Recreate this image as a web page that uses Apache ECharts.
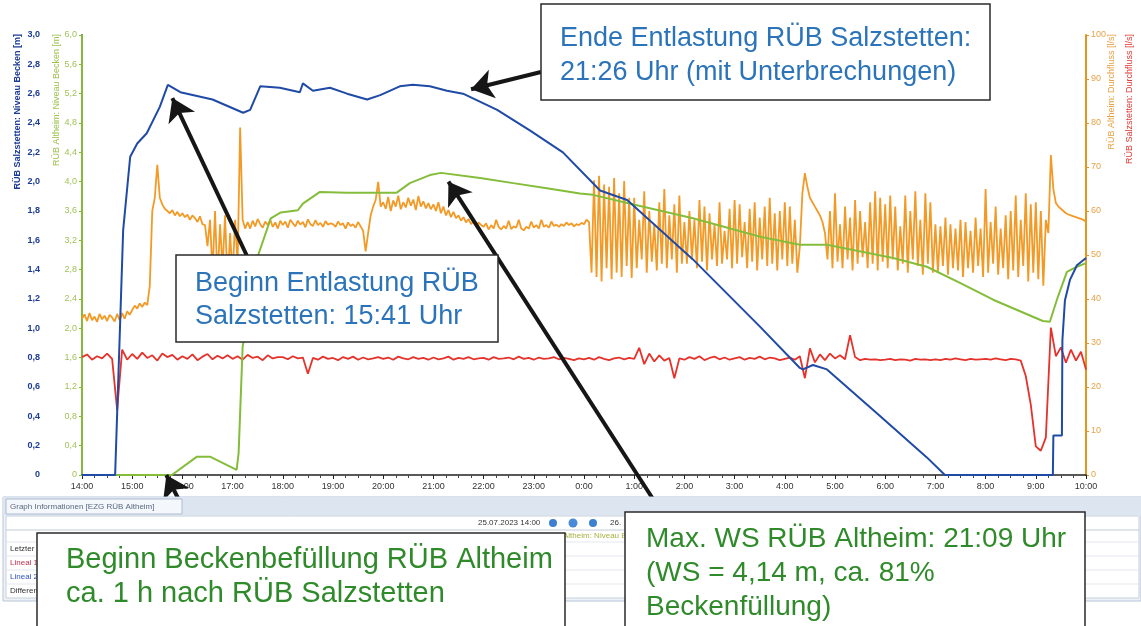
<!DOCTYPE html>
<html lang="de">
<head>
<meta charset="utf-8">
<title>RÜB Salzstetten / RÜB Altheim 25.07.2023</title>
<script src="https://cdn.jsdelivr.net/npm/echarts@6/dist/echarts.min.js"></script>
<style>
html, body { margin: 0; padding: 0; background: #fff; }
#chart { width: 1141px; height: 626px; }
</style>
</head>
<body>
<div id="chart"></div>
<script>
// Zeitachse: Stunden ab 25.07.2023 14:00
const zeitLabels = ['14:00','15:00','16:00','17:00','18:00','19:00','20:00','21:00','22:00','23:00',
  '0:00','1:00','2:00','3:00','4:00','5:00','6:00','7:00','8:00','9:00','10:00'];

// RÜB Salzstetten: Niveau Becken [m]  ([Stunde, Wert])
const niveauSalzstetten = [
  [0,0],[0.66,0],[0.76,1.04],[0.82,1.67],[0.96,2.17],[1.10,2.26],[1.29,2.33],[1.55,2.51],[1.71,2.66],
  [1.96,2.61],[2.60,2.56],[3.21,2.47],[3.35,2.49],[3.55,2.65],[3.94,2.64],[4.34,2.61],[4.40,2.67],
  [4.60,2.62],[4.94,2.64],[5.28,2.60],[5.68,2.56],[5.94,2.59],[6.33,2.65],[6.59,2.66],[6.93,2.65],
  [7.27,2.62],[7.59,2.60],[8.27,2.49],[8.92,2.35],[9.58,2.20],[10.32,1.94],[10.86,1.875],[12.17,1.47],
  [13.51,1.01],[14.30,0.73],[14.36,0.72],[14.56,0.75],[14.84,0.72],[15.84,0.42],[16.83,0.12],[17.19,0],
  [19.34,0],[19.35,0.27],[19.52,0.27],[19.53,0.92],[19.58,1.19],[19.68,1.33],[19.82,1.43],[20,1.48]
];

// RÜB Altheim: Niveau Becken [m]
const niveauAltheim = [
  [0,0],[1.79,0],[2.29,0.25],[2.55,0.25],[3.08,0.07],[3.12,0.3],[3.20,1.75],[3.50,2.98],[3.76,3.5],
  [3.96,3.58],[4.30,3.61],[4.40,3.70],[4.74,3.86],[5.28,3.85],[5.80,3.85],[6.27,3.85],[6.53,3.98],
  [6.93,4.09],[7.15,4.12],[7.93,4.05],[8.59,3.98],[9.26,3.91],[9.92,3.84],[10.18,3.82],[10.86,3.71],
  [12.17,3.50],[13.51,3.25],[14.30,3.14],[14.84,3.14],[16.16,2.96],[16.83,2.84],[17.49,2.62],
  [18.15,2.39],[19.14,2.10],[19.28,2.09],[19.44,2.43],[19.62,2.77],[19.82,2.84],[20,2.89]
];

// RÜB Altheim: Durchfluss [l/s], alle 3 min (0,05 h), je Zeile eine Stunde
const durchflussAltheimSchritt = 0.05;
const durchflussAltheim = [
  35.5,36.5,35,36.8,35.2,36,34.8,36.6,35.4,36.2,35,36.4,35.8,34.9,36.6,35.2,36.8,35.5,37.2,36.4,
  37.5,38.5,37.8,39,38.2,39.2,38.6,43,60,63,70.5,63,61.5,60.5,60,59.5,60.2,59,59.8,58.8,
  59.5,58.6,59.2,58,59,58.4,57.5,58.8,57,56.8,52,58,46,60,44,57,47,59,43,55,
  45,58,48,79,58,56,57.5,56,57.8,56.5,58.2,57,56.2,57.6,56.8,58,56.4,57.4,56,57.8,
  56.8,57.6,56.2,58,57.2,56.5,57.8,56.9,57.5,56.3,58.1,57,56.6,57.9,56.8,57.3,56.4,57.7,56.9,57.2,
  57,56.4,57.6,56.8,57.2,56,57.4,56.6,57,56.2,57.5,56.5,55.5,50.8,55,59,61,62.5,66.6,61,
  62,60.5,63.2,60,62.4,61,63.5,60.4,62,60.8,63,61.2,62.6,60.2,63.4,61,62.2,60.6,61.8,60.4,
  61.5,60,62,59.5,61,59,60.2,58.6,59.8,58.4,59,57.8,58.6,57.4,58.2,57,57.8,56.6,57.4,56.8,
  56.4,57.2,55.8,56.8,56,58,56.4,55.8,56.6,56,57.8,55.9,56.5,56.2,58,56,55.6,56.4,56,57.6,
  56.2,56.8,56,58,56.4,56.8,56.2,57.6,56.6,56.9,56.4,57,56.6,57.4,56.8,57.2,56.5,57,56.8,57.3,
  57,58,57.5,46,67,45,68,44,66,47,65.5,44.5,67.5,46,64,45,66.8,47.5,63,44.8,
  63,47,58,49,64.5,46,60,48.5,57,46.5,62,48,65,47,59,49,61.5,46,63.5,48,
  57.5,48,60,49,58,47,62.5,48.5,61,46.5,59.5,49,57,47.5,62,48,55.5,49,60.5,47,
  62.5,48,61.5,49.5,57.5,47,60.5,48.5,62,46.5,58.5,49,61,47.5,63,48,59.5,46.5,60,49,
  62,47.5,61,48,58,46,52,64,68.6,65.5,63,62,61,60,59,57.5,55,49,60,47,
  64,48.5,57,47,61,49,58.5,46.5,62.5,48,60,49.5,57.5,47,62,48,64.5,46.5,63,48.5,
  61.5,47,63.5,49,61,46.5,56.5,48,63.5,46,60,49,64.5,47.5,58,45.5,64,48,62,46,
  57,46,56.5,47.5,58.5,45.5,57,47,56,46.5,58,45,57.5,47,55.5,46,58.5,47.5,56,45,
  65,46,57.5,48,61,45.5,56,47,59,44.5,60,46.5,63.5,45,58,47.5,64,44,61.5,46,
  62,44.5,60,43,58,55,72.7,65,61.8,61,60.5,60,59.5,59.2,59,58.8,58.6,58.4,58.2,58,
  57.5
];

// RÜB Salzstetten: Durchfluss [l/s], alle 6 min (0,1 h)
const durchflussSalzstettenSchritt = 0.1;
const durchflussSalzstetten = [
  26.8,27.4,26.2,27,26.5,27.6,26.4,14.8,28.5,26.2,
  27.5,26.4,27.8,26.6,27.2,26,27.6,26.8,27.3,26.2,
  27,26.4,27.4,26.1,26.9,27.5,26.3,27.1,26.5,27.2,
  26.4,27,26.2,27.3,26.6,26.9,26.1,27.2,26.5,26.8,
  26.8,26.3,27,26.5,26.7,23,26.6,26.2,26.9,26.4,
  26.6,26.1,26.8,26.4,26.9,26.2,26.7,26.3,26.5,26.8,
  26.4,26.7,26.2,26.9,26.5,26.3,26.8,26.4,26.6,26.2,
  26.7,26.3,26.5,26.9,26.2,26.6,26.4,26.8,26.3,26.5,
  26.6,26.2,26.8,26.4,26.5,26.7,26.3,26.9,26.4,26.6,
  26.2,26.7,26.4,26.5,26.8,26.3,26.6,26.4,26.1,26.5,
  26.3,26.6,26.2,26.8,26.4,26.1,26.5,26.7,26.3,26.6,
  26.4,28.9,25.2,27.6,25.8,27.2,26,26.6,22,26.5,
  26.2,26.8,26.4,27,26.1,26.6,26.9,26.3,26.7,26.2,
  26.5,26.8,26.2,26.6,26.4,26.9,26.3,26.7,26.5,26.1,
  26.4,26.7,26.2,27,22,28.8,25.6,27.4,26.1,27.6,
  26.5,27.2,26.3,31.8,26.8,26.1,26.4,26.2,26.3,26.1,
  26.2,26.4,26.1,26.3,26.2,26,26.4,26.2,26.3,26.1,
  26.3,26.1,26.4,26.2,26.5,26.3,26.1,26.4,26.2,26.3,
  26.4,26.2,26.5,26.3,26.1,26.4,26.3,26,22.5,16,
  6.5,5.5,8.5,33.5,27,29,25.5,28.5,26,28,
  24
];

const blau = '#1f4aa6', gruen = '#84bd3a', orange = '#f39a26', rot = '#e5322b';
const textBlau = '#2c74b9', textGruen = '#2f8a2a';
const schrift = 'Liberation Sans, Arial, sans-serif';

function komma(v) {
  return v === 0 ? '0' : v.toFixed(1).replace('.', ',');
}

function reihe(werte, schritt) {
  return werte.map(function (v, i) { return [+(i * schritt).toFixed(2), v]; });
}

// Textkästen (Layout der Annotationen)
const kaesten = [
  { x: 541, y: 4, w: 449, h: 96, farbe: textBlau, gr: 27, tx: 560, ty: [39, 73],
    zeilen: ['Ende Entlastung RÜB Salzstetten:', '21:26 Uhr (mit Unterbrechungen)'] },
  { x: 176, y: 255, w: 322, h: 87, farbe: textBlau, gr: 27, tx: 195, ty: [284, 317],
    zeilen: ['Beginn Entlastung RÜB', 'Salzstetten: 15:41 Uhr'] },
  { x: 625, y: 512, w: 460, h: 130, farbe: textGruen, gr: 28, tx: 646, ty: [539, 573, 607],
    zeilen: ['Max. WS RÜB Altheim: 21:09 Uhr', '(WS = 4,14 m, ca. 81%', 'Beckenfüllung)'] },
  { x: 37, y: 533, w: 528, h: 110, farbe: textGruen, gr: 29, tx: 66, ty: [560, 594],
    zeilen: ['Beginn Beckenbefüllung RÜB Altheim', 'ca. 1 h nach RÜB Salzstetten'] }
];

const grafik = [];

// Panel "Graph Informationen"
grafik.push(
  { type: 'rect', z: 20, shape: { x: 3, y: 497, width: 1138, height: 104 }, style: { fill: '#eef2f7', stroke: '#b7c5d6', lineWidth: 1 } },
  { type: 'rect', z: 20, shape: { x: 3, y: 497, width: 1138, height: 18 }, style: { fill: '#dce5f0' } },
  { type: 'rect', z: 20, shape: { x: 6, y: 499, width: 176, height: 15 }, style: { fill: '#f4f7fb', stroke: '#aebdd0', lineWidth: 1 } },
  { type: 'text', z: 21, x: 10, y: 507, style: { text: 'Graph Informationen [EZG RÜB Altheim]', font: '8px ' + schrift, fill: '#5a6a80', verticalAlign: 'middle' } },
  { type: 'rect', z: 20, shape: { x: 6, y: 516, width: 1133, height: 82 }, style: { fill: '#ffffff', stroke: '#c5d0dd', lineWidth: 1 } },
  { type: 'line', z: 20, shape: { x1: 6, y1: 530, x2: 1139, y2: 530 }, style: { stroke: '#c2ccd8', lineWidth: 1 } },
  { type: 'text', z: 21, x: 478, y: 523, style: { text: '25.07.2023 14:00', font: '8px ' + schrift, fill: '#333', verticalAlign: 'middle' } },
  { type: 'circle', z: 21, shape: { cx: 553, cy: 523, r: 4 }, style: { fill: '#3d7fd0' } },
  { type: 'circle', z: 21, shape: { cx: 573, cy: 523, r: 4.5 }, style: { fill: '#4a8ad8' } },
  { type: 'circle', z: 21, shape: { cx: 593, cy: 523, r: 4 }, style: { fill: '#3d7fd0' } },
  { type: 'text', z: 21, x: 610, y: 523, style: { text: '26.', font: '8px ' + schrift, fill: '#333', verticalAlign: 'middle' } },
  { type: 'text', z: 21, x: 563, y: 536, style: { text: 'Altheim: Niveau B', font: '8px ' + schrift, fill: '#a9b040', verticalAlign: 'middle' } }
);
[['Letzter We', 549, '#333'], ['Lineal 1', 563, '#c0304a'], ['Lineal 2', 577, '#3050c0'], ['Differenz', 591, '#333']].forEach(function (r) {
  grafik.push({ type: 'text', z: 21, x: 10, y: r[1], style: { text: r[0], font: '8px ' + schrift, fill: r[2], verticalAlign: 'middle' } });
  grafik.push({ type: 'line', z: 20, shape: { x1: 6, y1: r[1] - 7, x2: 1139, y2: r[1] - 7 }, style: { stroke: '#e3e7ed', lineWidth: 1 } });
});

// Achsentitel (senkrecht)
[['RÜB Salzstetten: Niveau Becken [m]', 18, '#1b3a94', 'bold '],
 ['RÜB Altheim: Niveau Becken [m]', 57, '#9cc04a', ''],
 ['RÜB Altheim: Durchfluss [l/s]', 1112, '#e8a040', ''],
 ['RÜB Salzstetten: Durchfluss [l/s]', 1130, '#e03a35', '']].forEach(function (a) {
  grafik.push({ type: 'text', z: 10, x: a[1], y: 34, rotation: Math.PI / 2,
    style: { text: a[0], font: a[3] + '9px ' + schrift, fill: a[2], align: 'right', verticalAlign: 'middle' } });
});

kaesten.forEach(function (k) {
  grafik.push({ type: 'rect', z: 100, shape: { x: k.x, y: k.y, width: k.w, height: k.h },
    style: { fill: '#ffffff', stroke: '#2a2a2a', lineWidth: 1.5 } });
  k.zeilen.forEach(function (z, i) {
    grafik.push({ type: 'text', z: 101, x: k.tx, y: k.ty[i],
      style: { text: z, font: k.gr + 'px ' + schrift, fill: k.farbe, verticalAlign: 'middle' } });
  });
});

const pfeilStil = {
  silent: true,
  symbol: ['none', 'arrow'],
  symbolSize: 22,
  lineStyle: { color: '#161616', width: 4, type: 'solid' },
  label: { show: false },
  emphasis: { disabled: true },
  animation: false
};

const chart = echarts.init(document.getElementById('chart'));
chart.setOption({
  backgroundColor: '#ffffff',
  animation: false,
  textStyle: { fontFamily: schrift },
  grid: { left: 82, right: 55, top: 35, bottom: 151 },
  xAxis: {
    type: 'value', min: 0, max: 20, interval: 1,
    axisLine: { lineStyle: { color: '#222', width: 1.5 } },
    axisTick: { length: 4, lineStyle: { color: '#222' } },
    minorTick: { show: true, splitNumber: 4, length: 3, lineStyle: { color: '#444' } },
    axisLabel: { formatter: function (v) { return zeitLabels[v]; }, fontSize: 9, color: '#333', margin: 7 },
    splitLine: { show: false }
  },
  yAxis: [
    {
      type: 'value', position: 'left', offset: 37, min: 0, max: 3, interval: 0.2,
      axisLine: { show: true, lineStyle: { color: '#1b3a94', width: 2 } },
      axisTick: { show: true, length: 3, lineStyle: { color: '#1b3a94' } },
      axisLabel: { formatter: komma, color: '#1b3a94', fontSize: 9, margin: 5, fontWeight: 'bold' },
      splitLine: { show: false }
    },
    {
      type: 'value', position: 'left', offset: 0, min: 0, max: 6, interval: 0.4,
      axisLine: { show: true, lineStyle: { color: '#86b83a', width: 2 } },
      axisTick: { show: true, length: 3, lineStyle: { color: '#86b83a' } },
      axisLabel: { formatter: komma, color: '#a3c25a', fontSize: 9, margin: 5 },
      splitLine: { show: false }
    },
    {
      type: 'value', position: 'right', min: 0, max: 100, interval: 10,
      axisLine: { show: true, lineStyle: { color: '#e6951f', width: 2 } },
      axisTick: { show: true, length: 3, lineStyle: { color: '#e6951f' } },
      axisLabel: { color: '#e8a347', fontSize: 9, margin: 5 },
      splitLine: { show: false }
    }
  ],
  series: [
    { name: 'RÜB Altheim: Durchfluss', type: 'line', yAxisIndex: 2, z: 3, symbol: 'none',
      data: reihe(durchflussAltheim, durchflussAltheimSchritt), lineStyle: { color: orange, width: 1.8 } },
    { name: 'RÜB Salzstetten: Durchfluss', type: 'line', yAxisIndex: 2, z: 3, symbol: 'none',
      data: reihe(durchflussSalzstetten, durchflussSalzstettenSchritt), lineStyle: { color: rot, width: 1.8 } },
    { name: 'RÜB Altheim: Niveau Becken', type: 'line', yAxisIndex: 1, z: 4, symbol: 'none',
      data: niveauAltheim, lineStyle: { color: gruen, width: 2 } },
    { name: 'RÜB Salzstetten: Niveau Becken', type: 'line', yAxisIndex: 0, z: 5, symbol: 'none',
      data: niveauSalzstetten, lineStyle: { color: blau, width: 2 } },
    { name: 'PfeileSalzstetten', type: 'line', yAxisIndex: 0, z: 60, clip: false, silent: true, data: [],
      markLine: Object.assign({}, pfeilStil, { data: [
        [{ x: 541, y: 72 }, { coord: [7.75, 2.63] }],
        [{ x: 247, y: 256 }, { coord: [1.8, 2.57] }]
      ] }) },
    { name: 'PfeileAltheim', type: 'line', yAxisIndex: 1, z: 60, clip: false, silent: true, data: [],
      markLine: Object.assign({}, pfeilStil, { data: [
        [{ x: 662, y: 513 }, { coord: [7.3, 4.0] }],
        [{ x: 196, y: 534 }, { coord: [1.68, 0] }]
      ] }) }
  ],
  graphic: grafik
});
window.addEventListener('resize', function () { chart.resize(); });
</script>
</body>
</html>
